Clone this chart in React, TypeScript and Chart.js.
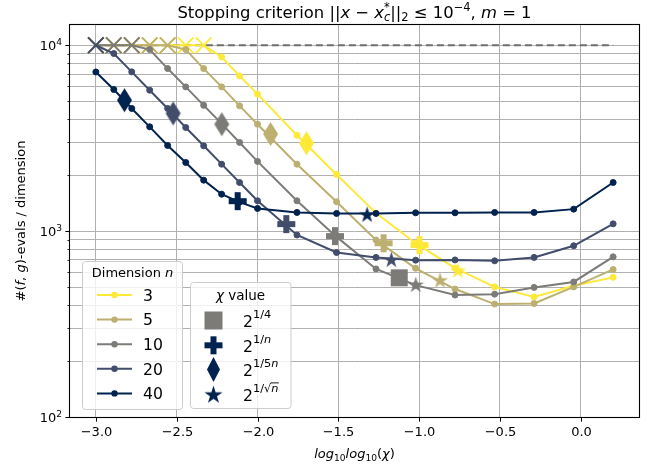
import React, { useEffect, useRef } from 'react';
import { Chart, registerables } from 'chart.js';

Chart.register(...registerables);

// ---------------- data ----------------
const logLogChi = [-3.0, -2.889, -2.778, -2.667, -2.556, -2.444, -2.333, -2.222, -2.111, -2.0, -1.756, -1.511, -1.267, -1.022, -0.778, -0.533, -0.289, -0.044, 0.2];
const dimensionLabels = ['3', '5', '10', '20', '40'];
const evalCap = 10000;
const evalsN3 = [10000, 10000, 10000, 10000, 10000, 10000, 10000, 8650, 6840, 5455, 3280, 2018, 1250, 861, 632, 501, 442, 508, 564];
const evalsN5 = [10000, 10000, 10000, 10000, 10000, 9480, 7490, 5970, 4720, 3760, 2292, 1439, 896, 631, 488, 405, 408, 501, 622];
const evalsN10 = [10000, 10000, 10000, 9480, 7490, 5970, 4750, 3785, 3000, 2372, 1456, 931, 626, 512, 453, 458, 498, 533, 727];
const evalsN20 = [10000, 9020, 7190, 5730, 4570, 3610, 2877, 2292, 1826, 1456, 953, 767, 722, 698, 700, 692, 722, 834, 1094];
const evalsN40 = [7180, 5780, 4570, 3640, 2890, 2340, 1880, 1580, 1432, 1324, 1260, 1245, 1245, 1255, 1255, 1260, 1260, 1313, 1826];
const seriesColors = ['#fee838', '#bcaf6f', '#7c7b78', '#414d6b', '#00224e'];
const capLineX = [-3.0, 0.2];

// chi value markers (2^{1/4}, 2^{1/n}, 2^{1/5n}, 2^{1/sqrt n})
const squareX = [-1.1235];
const squareY = [561];
const plusX = [-0.998, -1.22, -1.521, -1.822, -2.123];
const plusY = [841, 861, 940, 1091, 1449];
const diamondX = [-1.697, -1.919, -2.221, -2.522, -2.823];
const diamondY = [2972, 3328, 3758, 4298, 5060];
const starX = [-0.76, -0.871, -1.021, -1.172, -1.322];
const starY = [617, 546, 517, 705, 1233];

const xTickValues = [-3.0, -2.5, -2.0, -1.5, -1.0, -0.5, 0.0];
const xTickLabels = ['\u22123.0', '\u22122.5', '\u22122.0', '\u22121.5', '\u22121.0', '\u22120.5', '0.0'];
const yMajorTicks = [100, 1000, 10000];
const yMajorExponents = ['2', '3', '4'];
const yMinorTicks = [200, 300, 400, 500, 600, 700, 800, 900, 2000, 3000, 4000, 5000, 6000, 7000, 8000, 9000];

// ---------------- helpers ----------------
const FONT = '"DejaVu Sans"';
type Run = { t: string; it?: boolean; s?: number; dy?: number; adv?: boolean; over?: boolean };

function fontOf(r: Run, size: number) {
  return `${r.it ? 'italic ' : ''}${(size * (r.s ?? 1)).toFixed(2)}px ${FONT}`;
}
function runsWidth(ctx: CanvasRenderingContext2D, runs: Run[], size: number) {
  let w = 0;
  let pending = 0;
  for (const r of runs) {
    ctx.font = fontOf(r, size);
    const rw = ctx.measureText(r.t).width;
    if (r.adv === false) { pending = rw; continue; }
    w += Math.max(rw, pending);
    pending = 0;
  }
  return w;
}
function drawRuns(ctx: CanvasRenderingContext2D, runs: Run[], x: number, y: number, size: number, align: 'left' | 'center' | 'right') {
  const total = runsWidth(ctx, runs, size);
  let cx = align === 'center' ? x - total / 2 : align === 'right' ? x - total : x;
  let pending = 0;
  ctx.textAlign = 'left';
  ctx.textBaseline = 'alphabetic';
  for (const r of runs) {
    ctx.font = fontOf(r, size);
    const rw = ctx.measureText(r.t).width;
    const ty = y + (r.dy ?? 0) * size;
    ctx.fillText(r.t, cx, ty);
    if (r.over) {
      ctx.fillRect(cx - 0.5, ty - size * (r.s ?? 1) * 0.86, rw + 1, 0.9);
    }
    if (r.adv === false) { pending = rw; continue; }
    cx += Math.max(rw, pending);
    pending = 0;
  }
}

function makeMarker(kind: string, color: string, w: number, h: number) {
  const c = document.createElement('canvas');
  c.width = Math.ceil(w) + 2;
  c.height = Math.ceil(h) + 2;
  const g = c.getContext('2d') as CanvasRenderingContext2D;
  g.fillStyle = color;
  const cx = c.width / 2;
  const cy = c.height / 2;
  g.beginPath();
  if (kind === 'square') {
    g.rect(cx - w / 2, cy - h / 2, w, h);
  } else if (kind === 'plus') {
    const a = w / 6;
    const pts = [[-1, -3], [1, -3], [1, -1], [3, -1], [3, 1], [1, 1], [1, 3], [-1, 3], [-1, 1], [-3, 1], [-3, -1], [-1, -1]];
    pts.forEach((p, i) => (i === 0 ? g.moveTo(cx + p[0] * a, cy + p[1] * a) : g.lineTo(cx + p[0] * a, cy + p[1] * a)));
  } else if (kind === 'diamond') {
    g.moveTo(cx, cy - h / 2);
    g.lineTo(cx + w / 2, cy);
    g.lineTo(cx, cy + h / 2);
    g.lineTo(cx - w / 2, cy);
  } else if (kind === 'star') {
    const R = w / 2;
    const r = R * 0.381966;
    for (let k = 0; k < 10; k++) {
      const ang = -Math.PI / 2 + (k * Math.PI) / 5;
      const rr = k % 2 === 0 ? R : r;
      const px = cx + rr * Math.cos(ang);
      const py = cy + rr * Math.sin(ang) + R * 0.09;
      if (k === 0) g.moveTo(px, py); else g.lineTo(px, py);
    }
  }
  g.closePath();
  g.fill();
  return c;
}

export default function App() {
  const ref = useRef<HTMLCanvasElement>(null);

  useEffect(() => {
    const canvas = ref.current;
    if (!canvas) return;
    const seriesValues = [evalsN3, evalsN5, evalsN10, evalsN20, evalsN40];
    const navy = seriesColors[4];

    const plusImgs = seriesColors.map((c) => makeMarker('plus', c, 18, 18));
    const diamondImgs = seriesColors.map((c) => makeMarker('diamond', c, 15, 24));
    const starImgs = seriesColors.map((c) => makeMarker('star', c, 17, 17));
    const squareImg = makeMarker('square', seriesColors[2], 17, 17);
    const legSquare = makeMarker('square', seriesColors[2], 18, 18);
    const legPlus = makeMarker('plus', navy, 18, 18);
    const legDiamond = makeMarker('diamond', navy, 13, 25);
    const legStar = makeMarker('star', navy, 19, 19);

    const isCap = (c: any) => c && c.raw && c.raw.y >= evalCap;

    const lineSets: any[] = seriesValues.map((vals, si) => ({
      label: dimensionLabels[si],
      data: logLogChi.map((x, i) => ({ x, y: vals[i] })),
      borderColor: seriesColors[si],
      backgroundColor: seriesColors[si],
      borderWidth: 2,
      pointStyle: (c: any) => (isCap(c) ? 'crossRot' : 'circle'),
      pointRadius: (c: any) => (isCap(c) ? 11 : 3),
      pointBorderWidth: (c: any) => (isCap(c) ? 1.8 : 1),
      pointBackgroundColor: seriesColors[si],
      pointBorderColor: seriesColors[si],
      order: 5 - si,
    }));

    const markerSet = (xs: number[], ys: number[], imgs: any[], label: string) => ({
      label,
      data: xs.map((x, i) => ({ x, y: ys[i] })),
      showLine: false,
      pointStyle: imgs,
      pointRadius: 9,
      order: 0,
    });

    const datasets: any[] = [
      {
        label: 'cap',
        data: capLineX.map((x) => ({ x, y: evalCap })),
        borderColor: '#6e6e6e',
        borderWidth: 2,
        borderDash: [7, 4],
        pointRadius: 0,
        order: 10,
      },
      ...lineSets,
      markerSet(squareX, squareY, [squareImg], 'sq'),
      markerSet(plusX, plusY, plusImgs, 'plus'),
      markerSet(diamondX, diamondY, diamondImgs, 'diamond'),
      markerSet(starX, starY, starImgs, 'star'),
    ];

    const overlay = {
      id: 'overlay',
      afterDraw(chart: any) {
        const ctx: CanvasRenderingContext2D = chart.ctx;
        const { left, right, top, bottom } = chart.chartArea;
        const xs = chart.scales.x;
        const ys = chart.scales.y;
        ctx.save();
        ctx.fillStyle = '#000';
        ctx.strokeStyle = '#000';
        // spines
        ctx.lineWidth = 1.1;
        ctx.strokeRect(left - 0.5, top - 0.5, right - left + 1, bottom - top + 1);
        // x ticks
        ctx.lineWidth = 1;
        xTickValues.forEach((v, i) => {
          const px = Math.round(xs.getPixelForValue(v)) + 0.5;
          ctx.beginPath();
          ctx.moveTo(px, bottom);
          ctx.lineTo(px, bottom + 4.6);
          ctx.stroke();
          ctx.font = `13px ${FONT}`;
          ctx.textAlign = 'center';
          ctx.textBaseline = 'top';
          ctx.fillText(xTickLabels[i], px, bottom + 9);
        });
        // y ticks
        yMajorTicks.forEach((v, i) => {
          const py = Math.round(ys.getPixelForValue(v)) + 0.5;
          ctx.beginPath();
          ctx.moveTo(left, py);
          ctx.lineTo(left - 4.6, py);
          ctx.stroke();
          drawRuns(ctx, [{ t: '10' }, { t: yMajorExponents[i], s: 0.7, dy: -0.42 }], left - 8, py + 4.8, 13, 'right');
        });
        ctx.lineWidth = 0.8;
        yMinorTicks.forEach((v) => {
          const py = Math.round(ys.getPixelForValue(v)) + 0.5;
          ctx.beginPath();
          ctx.moveTo(left, py);
          ctx.lineTo(left - 2.6, py);
          ctx.stroke();
        });
        // title
        const cxPlot = (left + right) / 2;
        drawRuns(
          ctx,
          [
            { t: 'Stopping criterion ' },
            { t: '||' },
            { t: 'x', it: true },
            { t: ' \u2212 ' },
            { t: 'x', it: true },
            { t: 'c', it: true, s: 0.7, dy: 0.22, adv: false },
            { t: '*', s: 0.7, dy: -0.38 },
            { t: '||' },
            { t: '2', s: 0.7, dy: 0.22 },
            { t: ' \u2264 10' },
            { t: '\u22124', s: 0.7, dy: -0.42 },
            { t: ', ' },
            { t: 'm', it: true },
            { t: ' = 1' },
          ],
          cxPlot,
          top - 7.5,
          16.4,
          'center'
        );
        // x label
        drawRuns(
          ctx,
          [
            { t: 'log', it: true },
            { t: '10', s: 0.7, dy: 0.22 },
            { t: 'log', it: true },
            { t: '10', s: 0.7, dy: 0.22 },
            { t: '(' },
            { t: '\u03c7', it: true },
            { t: ')' },
          ],
          cxPlot,
          458,
          13,
          'center'
        );
        // y label
        ctx.save();
        ctx.translate(20.5, (top + bottom) / 2);
        ctx.rotate(-Math.PI / 2);
        drawRuns(
          ctx,
          [{ t: '#(' }, { t: 'f', it: true }, { t: ', ' }, { t: 'g', it: true }, { t: ')-evals / dimension' }],
          0,
          4.5,
          13,
          'center'
        );
        ctx.restore();

        // legend frames
        const frame = (x0: number, y0: number, x1: number, y1: number) => {
          ctx.beginPath();
          (ctx as any).roundRect(x0, y0, x1 - x0, y1 - y0, 3);
          ctx.fillStyle = 'rgba(255,255,255,0.8)';
          ctx.fill();
          ctx.strokeStyle = '#cccccc';
          ctx.lineWidth = 1;
          ctx.stroke();
          ctx.fillStyle = '#000';
        };
        // legend 1: Dimension n
        frame(82.5, 261.5, 182.5, 409.5);
        drawRuns(ctx, [{ t: 'Dimension ' }, { t: 'n', it: true }], 132.5, 277, 13, 'center');
        const rows1 = [295, 319.6, 344.2, 368.8, 393.4];
        dimensionLabels.forEach((lab, i) => {
          const y = rows1[i];
          ctx.strokeStyle = seriesColors[i];
          ctx.lineWidth = 2;
          ctx.beginPath();
          ctx.moveTo(97, y);
          ctx.lineTo(132, y);
          ctx.stroke();
          ctx.fillStyle = seriesColors[i];
          ctx.beginPath();
          ctx.arc(114.5, y, 3.2, 0, Math.PI * 2);
          ctx.fill();
          ctx.fillStyle = '#000';
          drawRuns(ctx, [{ t: lab }], 143, y + 5.7, 15.7, 'left');
        });
        // legend 2: chi value
        frame(190.5, 282.5, 291, 408.5);
        drawRuns(ctx, [{ t: '\u03c7', it: true }, { t: ' value' }], 240.5, 300, 13.5, 'center');
        const rows2 = [320.5, 345.3, 369.5, 394.3];
        const legImgs = [legSquare, legPlus, legDiamond, legStar];
        const supDy = -0.55;
        const legLabels: Run[][] = [
          [{ t: '2' }, { t: '1/4', s: 0.72, dy: supDy }],
          [{ t: '2' }, { t: '1/', s: 0.72, dy: supDy }, { t: 'n', it: true, s: 0.72, dy: supDy }],
          [{ t: '2' }, { t: '1/5', s: 0.72, dy: supDy }, { t: 'n', it: true, s: 0.72, dy: supDy }],
          [{ t: '2' }, { t: '1/\u221a', s: 0.72, dy: supDy }, { t: 'n', it: true, s: 0.72, dy: supDy, over: true }],
        ];
        rows2.forEach((y, i) => {
          const img = legImgs[i];
          ctx.drawImage(img, 213.5 - img.width / 2, y - img.height / 2);
          drawRuns(ctx, legLabels[i], 243, y + 6.5, 15.7, 'left');
        });
        ctx.restore();
      },
    };

    const chart = new Chart(canvas, {
      type: 'line',
      data: { datasets },
      options: {
        animation: false,
        responsive: false,
        layout: { padding: { top: 25, right: 23, left: 0, bottom: 0 } },
        plugins: {
          legend: { display: false },
          title: { display: false },
          tooltip: { enabled: false },
        },
        scales: {
          x: {
            type: 'linear',
            min: -3.16,
            max: 0.36,
            afterBuildTicks: (s: any) => {
              s.ticks = xTickValues.map((v) => ({ value: v }));
            },
            afterFit: (s: any) => {
              s.height = 52;
            },
            ticks: { display: false },
            grid: { color: '#b0b0b0', lineWidth: 1, drawTicks: false },
            border: { display: false },
          },
          y: {
            type: 'logarithmic',
            min: 100,
            max: 12850,
            afterBuildTicks: (s: any) => {
              s.ticks = [...yMajorTicks, ...yMinorTicks].sort((a, b) => a - b).map((v) => ({ value: v }));
            },
            afterFit: (s: any) => {
              s.width = 70;
            },
            ticks: { display: false },
            grid: { color: '#b0b0b0', lineWidth: 1, drawTicks: false },
            border: { display: false },
          },
        },
      } as any,
      plugins: [overlay],
    });
    return () => chart.destroy();
  }, []);

  return (
    <div style={{ position: 'absolute', left: 0, top: 0, width: 662, height: 469, background: '#fff' }}>
      <canvas ref={ref} width={662} height={469} style={{ display: 'block', width: 662, height: 469 }} />
    </div>
  );
}
